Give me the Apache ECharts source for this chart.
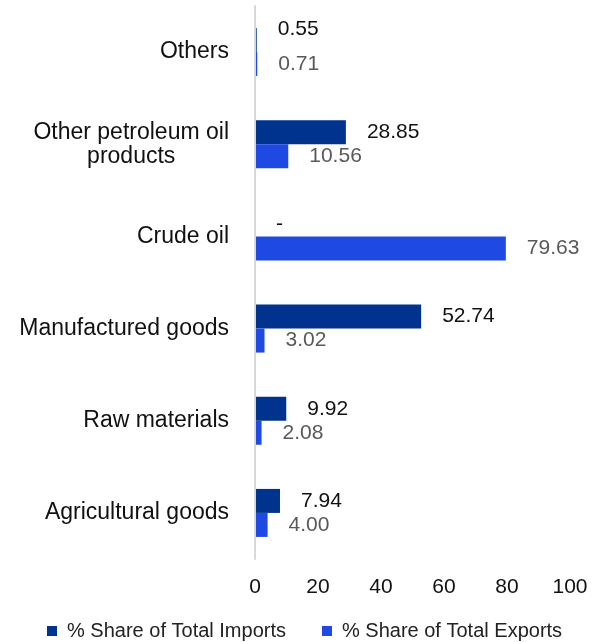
<!DOCTYPE html>
<html>
<head>
<meta charset="utf-8">
<script src="https://cdn.jsdelivr.net/npm/echarts@6/dist/echarts.min.js"></script>
<style>
  html, body { margin: 0; padding: 0; background: #fff; }
  #chart { width: 595px; height: 642px; }
</style>
</head>
<body>
<div id="chart"></div>
<script>
// Product groups, listed from top to bottom
const categories = [
  'Others',
  'Other petroleum oil products',
  'Crude oil',
  'Manufactured goods',
  'Raw materials',
  'Agricultural goods'
];
// Share of total imports (%); a zero share is shown as a dash
const importShare = [0.55, 28.85, 0, 52.74, 9.92, 7.94];
// Share of total exports (%)
const exportShare = [0.71, 10.56, 79.63, 3.02, 2.08, 4.00];
// Value axis ticks
const xTicks = [0, 20, 40, 60, 80, 100];
const seriesNames = ['% Share of Total Imports', '% Share of Total Exports'];

const FONT = '"Liberation Sans", Arial, Helvetica, sans-serif';
const IMPORT_COLOR = '#00338D';
const EXPORT_COLOR = '#1E49E2';

// Wrap long category names onto centred lines
function wrapLabel(text, maxChars) {
  const words = text.split(' ');
  const lines = [];
  let line = '';
  words.forEach(w => {
    const next = line ? line + ' ' + w : w;
    if (next.length > maxChars && line) { lines.push(line); line = w; }
    else line = next;
  });
  if (line) lines.push(line);
  return lines.map(l => '{c|' + l + '}').join('\n');
}

const valueLabel = p => (p.value === 0 ? '-' : Number(p.value).toFixed(2));

// The "Others" import label sits a little above its hairline bar
const importData = importShare.map((v, i) =>
  categories[i] === 'Others' ? { value: v, label: { offset: [0, -11] } } : v
);

const chart = echarts.init(document.getElementById('chart'), null, { renderer: 'canvas' });

chart.setOption({
  animation: false,
  backgroundColor: '#ffffff',
  textStyle: { fontFamily: FONT },
  grid: { left: 255, right: 25, top: 6, bottom: 83, containLabel: false },
  legend: {
    data: seriesNames,
    left: 47,
    top: 621,
    padding: 0,
    icon: 'rect',
    itemWidth: 10,
    itemHeight: 10,
    itemGap: 36,
    textStyle: { fontSize: 20, color: '#222', fontFamily: FONT, padding: [0, 0, 0, 5] }
  },
  xAxis: {
    type: 'value',
    min: xTicks[0],
    max: xTicks[xTicks.length - 1],
    interval: xTicks[1] - xTicks[0],
    axisLine: { show: false },
    axisTick: { show: false },
    splitLine: { show: false },
    axisLabel: { fontSize: 21, color: '#111', margin: 18, fontFamily: FONT }
  },
  yAxis: {
    type: 'category',
    inverse: true,
    z: 3,
    data: categories,
    axisLine: { show: true, lineStyle: { color: '#d9d9d9', width: 2 } },
    axisTick: { show: false },
    axisLabel: {
      margin: 26,
      formatter: v => wrapLabel(v, 19),
      rich: {
        c: { align: 'center', fontSize: 23, lineHeight: 24, color: '#111', fontFamily: FONT }
      }
    }
  },
  series: [
    {
      name: seriesNames[0],
      type: 'bar',
      data: importData,
      barWidth: 24,
      barGap: '0%',
      itemStyle: { color: IMPORT_COLOR },
      label: {
        show: true,
        position: 'right',
        distance: 21,
        fontSize: 21,
        color: '#111',
        fontFamily: FONT,
        formatter: valueLabel
      }
    },
    {
      name: seriesNames[1],
      type: 'bar',
      data: exportShare,
      barWidth: 24,
      barGap: '0%',
      itemStyle: { color: EXPORT_COLOR },
      label: {
        show: true,
        position: 'right',
        distance: 21,
        fontSize: 21,
        color: '#595959',
        fontFamily: FONT,
        formatter: valueLabel
      }
    }
  ]
});
</script>
</body>
</html>
